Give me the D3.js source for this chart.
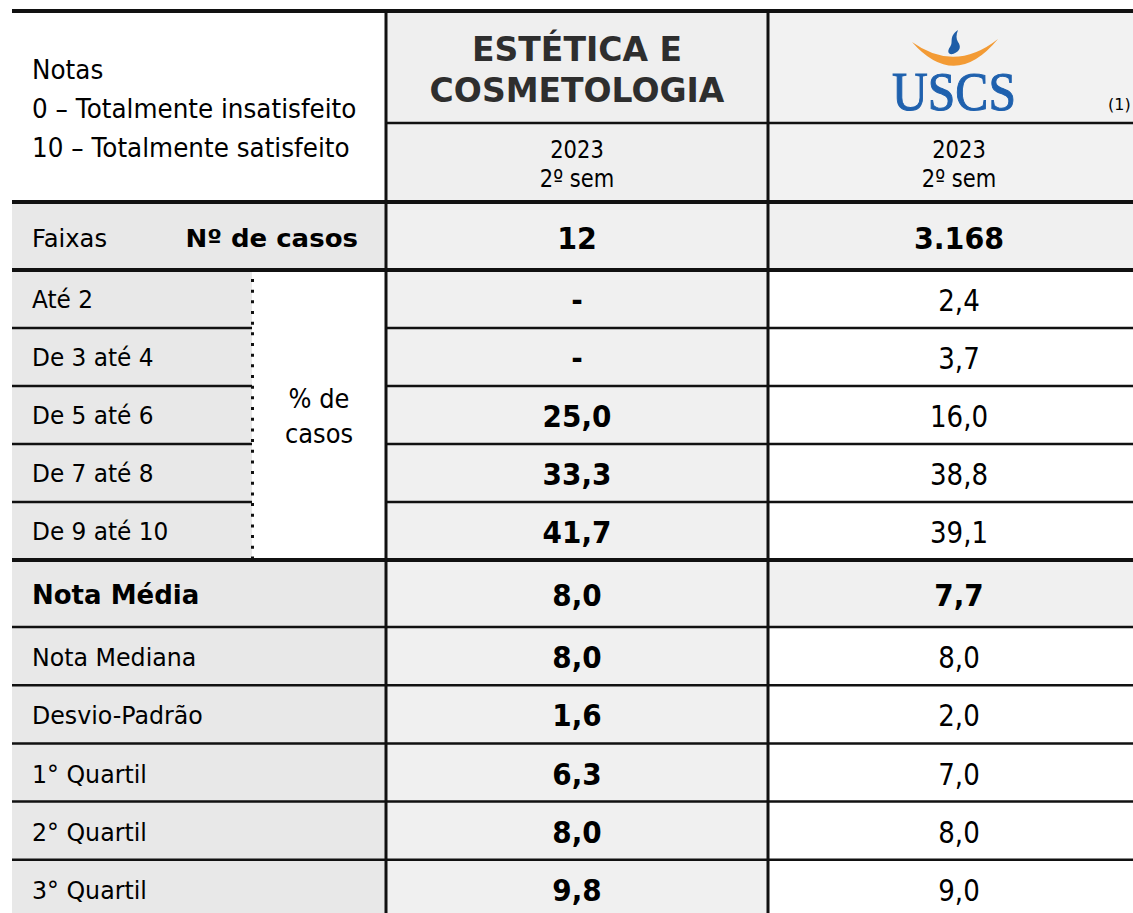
<!DOCTYPE html>
<html>
<head>
<meta charset="utf-8">
<script src="https://cdn.jsdelivr.net/npm/d3@7"></script>
<style>
  body { margin: 0; background: #fff; }
  svg { display: block; font-family: "DejaVu Sans", Verdana, sans-serif; }
</style>
</head>
<body>
<svg id="chart" width="1133" height="913"></svg>
<script>
// DATA
var notesLegend = ["Notas", "0 – Totalmente insatisfeito", "10 – Totalmente satisfeito"];
var courseTitle = ["ESTÉTICA E", "COSMETOLOGIA"];
var periodLines = ["2023", "2º sem"];
var casesCount = [12, 3168];
var bandLabels = ["Até 2", "De 3 até 4", "De 5 até 6", "De 7 até 8", "De 9 até 10"];
var bandCourse = [null, null, 25.0, 33.3, 41.7];
var bandUscs = [2.4, 3.7, 16.0, 38.8, 39.1];
var statLabels = ["Nota Média", "Nota Mediana", "Desvio-Padrão", "1° Quartil", "2° Quartil", "3° Quartil"];
var statCourse = [8.0, 8.0, 1.6, 6.3, 8.0, 9.8];
var statUscs = [7.7, 8.0, 2.0, 7.0, 8.0, 9.0];

// number formats (pt-BR)
var pt = d3.formatLocale({decimal: ",", thousands: ".", grouping: [3], currency: ["R$", ""]});
var fmt1 = pt.format(".1f"), fmtInt = pt.format(",d");
var dec = function(v) { return v == null ? "-" : fmt1(v); };

// layout
var colX = [12, 386, 768, 1150];    // column edges (last one runs past the page)
var subX = 252;                     // dotted split inside the first column
var mid2 = (colX[1] + colX[2]) / 2, mid3 = (colX[2] + colX[3]) / 2;
var headTop = 11, headMid = 123, headBot = 202, faixasBot = 270;
var rowH = 58, mediaH = 67, statH = 58.2;

var yBand = d3.scaleBand().domain(bandLabels).range([faixasBot, faixasBot + bandLabels.length * rowH]);
var bandsBot = yBand.range()[1];
var statTops = statLabels.map(function(d, i) { return i == 0 ? bandsBot : bandsBot + mediaH + (i - 1) * statH; });
var statHs = statLabels.map(function(d, i) { return i == 0 ? mediaH : statH; });

var svg = d3.select("#chart");
var bg = svg.append("g"), lines = svg.append("g"), txt = svg.append("g");

var grayL = "#e8e8e8", grayM = "#f0f0f0", grayH = "#f2f2f2";

function rect(x0, y0, x1, y1, fill) {
  bg.append("rect").attr("x", x0).attr("y", y0).attr("width", x1 - x0).attr("height", y1 - y0).attr("fill", fill);
}
function label(x, y, str, o) {
  o = o || {};
  return txt.append("text")
    .attr("transform", "translate(" + x + "," + y + ") scale(" + (o.sx || 1) + ",1)")
    .attr("text-anchor", o.anchor || "start")
    .attr("font-size", o.size || 25)
    .attr("font-weight", o.bold ? "bold" : "normal")
    .attr("font-family", o.family || null)
    .attr("fill", o.fill || "#000")
    .text(str);
}
function hline(y, x0, x1, w) {
  lines.append("line").attr("x1", x0).attr("x2", x1).attr("y1", y).attr("y2", y)
    .attr("stroke", "#111").attr("stroke-width", w);
}
function vline(x, y0, y1, w) {
  lines.append("line").attr("x1", x).attr("x2", x).attr("y1", y0).attr("y2", y1)
    .attr("stroke", "#111").attr("stroke-width", w);
}

// backgrounds
rect(colX[1], headTop, colX[2], headBot, "#efefef");
rect(colX[2], headTop, colX[3], headBot, grayH);
rect(colX[0], headBot, colX[1], faixasBot, grayL);
rect(colX[1], headBot, colX[3], faixasBot, grayM);

bandLabels.forEach(function(d) {
  rect(colX[0], yBand(d), subX, yBand(d) + rowH, grayL);
  rect(colX[1], yBand(d), colX[2], yBand(d) + rowH, grayM);
});
statLabels.forEach(function(d, i) {
  rect(colX[0], statTops[i], colX[1], statTops[i] + statHs[i], grayL);
  rect(colX[1], statTops[i], colX[2], statTops[i] + statHs[i], grayM);
  if (i == 0) rect(colX[2], statTops[i], colX[3], statTops[i] + statHs[i], grayM);
});

// header texts
notesLegend.forEach(function(d, i) { label(32, 79 + i * 39, d, {size: 26, sx: 0.95}); });
courseTitle.forEach(function(d, i) { label(mid2, 61 + i * 41, d, {size: 33, bold: true, fill: "#2e2e2e", anchor: "middle"}); });
[mid2, mid3].forEach(function(cx) {
  periodLines.forEach(function(d, i) { label(cx, 158 + i * 29, d, {size: 24.5, anchor: "middle", sx: 0.86}); });
});

// USCS logo
var logo = svg.append("g");
logo.append("path").attr("d", "M912,42 Q955,91 998,39 Q955,73 912,42 Z").attr("fill", "#f39b35");
logo.append("path")
  .attr("d", "M958,30 C948,37 954,42 950,47 C947,51 948,55 953,54 C961,51 961,46 958,42 C956,39 956,35 958,30 Z")
  .attr("fill", "#1f5ea8");
label(954, 110, "USCS", {size: 55, anchor: "middle", sx: 0.9, fill: "#1f61ae", family: "'Liberation Serif', 'DejaVu Serif', serif"})
  .attr("stroke", "#1f61ae").attr("stroke-width", 1);
label(1108, 110, "(1)", {size: 16});

// Faixas row
label(32, 247, "Faixas", {size: 25.5, sx: 0.95});
label(358, 247, "Nº de casos", {size: 25.5, bold: true, anchor: "end", sx: 1.02});
label(mid2, 249, fmtInt(casesCount[0]), {size: 31, bold: true, anchor: "middle", sx: 0.92});
label(mid3, 249, fmtInt(casesCount[1]), {size: 31, bold: true, anchor: "middle", sx: 0.92});

// bands
bandLabels.forEach(function(d, i) {
  var cy = yBand(d) + rowH / 2;
  label(32, cy + 9, d, {size: 25, sx: 0.93});
  label(mid2, cy + 12, dec(bandCourse[i]), {size: 30, bold: true, anchor: "middle", sx: 0.93});
  label(mid3, cy + 12, dec(bandUscs[i]), {size: 30, anchor: "middle", sx: 0.87});
});
var bandMid = (faixasBot + bandsBot) / 2;
label((subX + colX[1]) / 2, bandMid - 7, "% de", {size: 26, anchor: "middle", sx: 0.93});
label((subX + colX[1]) / 2, bandMid + 28, "casos", {size: 26, anchor: "middle", sx: 0.93});

// stats
statLabels.forEach(function(d, i) {
  var cy = statTops[i] + statHs[i] / 2;
  if (i == 0) label(32, cy + 10, d, {size: 26, bold: true});
  else label(32, cy + 10, d, {size: 25.5, sx: 0.93});
  label(mid2, cy + 12, dec(statCourse[i]), {size: 30, bold: true, anchor: "middle", sx: 0.93});
  label(mid3, cy + 12, dec(statUscs[i]), {size: 30, bold: i == 0, anchor: "middle", sx: i == 0 ? 0.93 : 0.87});
});

// rules
hline(headTop, colX[0], colX[3], 4);
hline(headMid, colX[1], colX[3], 2.5);
hline(headBot, colX[0], colX[3], 4);
hline(faixasBot, colX[0], colX[3], 4);
bandLabels.slice(1).forEach(function(d) {
  hline(yBand(d), colX[0], subX, 2.5);
  hline(yBand(d), colX[1], colX[3], 2.5);
});
statTops.forEach(function(t, i) { hline(t, colX[0], colX[3], i == 0 ? 4 : 2.5); });
vline(colX[1], headTop, 913, 3);
vline(colX[2], headTop, 913, 3);
lines.append("line").attr("x1", subX + 0.5).attr("x2", subX + 0.5).attr("y1", 279).attr("y2", bandsBot)
  .attr("stroke", "#111").attr("stroke-width", 3).attr("stroke-dasharray", "3 7.67");
</script>
</body>
</html>
